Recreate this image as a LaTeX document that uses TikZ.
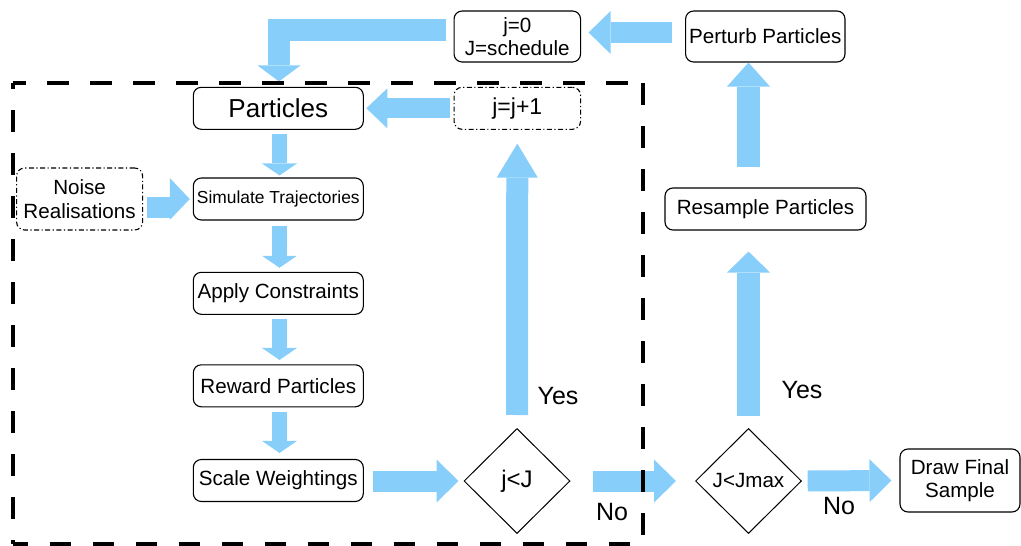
\documentclass[tikz,border=0pt]{standalone}
\usepackage{fontspec}
\setmainfont{Liberation Sans}
\usetikzlibrary{arrows.meta,shapes.geometric,calc}
\definecolor{flowblue}{HTML}{87CEFA}
\tikzset{
  box/.style={draw=black, line width=1.1pt, rounded corners=8pt, fill=white,
    inner sep=0pt, align=center, font=\fontsize{20.6}{23.4}\selectfont},
  dashdotbox/.style={box, dash pattern=on 5pt off 2.5pt on 1.2pt off 2.5pt},
  decision/.style={diamond, draw=black, line width=1pt, inner sep=0pt,
    minimum width=106pt, minimum height=105pt, fill=white},
  bigflow/.style={draw=flowblue, line width=21pt, line join=miter,
    -{Triangle[length=22pt,width=43pt,line width=0pt]}},
  smallflow/.style={draw=flowblue, line width=15pt,
    -{Triangle[length=12pt,width=35pt,line width=0pt]}},
  answer/.style={font=\fontsize{25}{30}\selectfont, inner sep=0pt},
  loopframe/.style={draw=black, line width=4pt, dash pattern=on 21.5pt off 21.5pt},
}
\begin{document}
\begin{tikzpicture}[x=1pt,y=-1pt]
\useasboundingbox (0,0) rectangle (1021,546);

% process boxes
\node[box, minimum width=126.5pt, minimum height=51pt] (j0) at (517.3,36.5) {j=0\\J=schedule};
\node[box, minimum width=159.4pt, minimum height=51pt] (perturb) at (765.3,36.5) {Perturb Particles};
\node[box, minimum width=170pt, minimum height=42pt, font=\fontsize{26}{30}\selectfont] (part) at (278.3,108.3) {Particles};
\node[dashdotbox, minimum width=126.5pt, minimum height=42pt, font=\fontsize{23}{27}\selectfont] (jinc) at (517.3,108.3) {j=j+1};
\node[dashdotbox, minimum width=126pt, minimum height=62pt] (noise) at (79.6,199) {Noise\\Realisations};
\node[box, minimum width=170pt, minimum height=42pt, font=\fontsize{17.4}{20}\selectfont] (sim) at (278.3,199) {Simulate Trajectories};
\node[box, minimum width=170pt, minimum height=42pt] (apply) at (278.3,293.3) {Apply Constraints};
\node[box, minimum width=170pt, minimum height=42pt] (reward) at (278.3,385.8) {Reward Particles};
\node[box, minimum width=170pt, minimum height=42pt] (scale) at (278.3,480.5) {Scale Weightings};
\node[box, minimum width=201pt, minimum height=42pt] (resample) at (765.5,209) {Resample Particles};
\node[box, minimum width=120pt, minimum height=63pt] (final) at (960,480.5) {Draw Final\\Sample};

% decisions
\node[decision, font=\fontsize{24}{28}\selectfont] (dec1) at (517,481) {j<J};
\node[decision, font=\fontsize{20.6}{24}\selectfont] (dec2) at (748.5,481) {J<Jmax};

% flow arrows
\draw[bigflow] ($(perturb.west)+(-12.6,-4)$) -- ($(j0.east)+(7.5,-4)$);
\draw[bigflow, line width=22pt, -{Triangle[length=16pt,width=43pt,line width=0pt]}]
  ($(j0.west)+(-8,-6.5)$) -| ($(part.north)+(0.7,-5.3)$);
\draw[bigflow, line width=20pt, -{Triangle[length=21pt,width=40pt,line width=0pt]}]
  ($(jinc.west)+(-4,0)$) -- ($(part.east)+(2.5,0)$);
\draw[smallflow] ($(part.south)+(1.2,4)$) -- ($(sim.north)+(1.2,-2)$);
\draw[draw=flowblue, line width=21pt] ($(noise.east)+(3.8,8.5)$) -- ($(sim.west)+(-22,8.5)$);
\fill[flowblue] ($(sim.west)+(-3,0)$) -- ++(-20,-21) -- ++(0,42) -- cycle;
\draw[smallflow] ($(sim.south)+(1.2,5)$) -- ($(apply.north)+(1.2,-4)$);
\draw[smallflow] ($(apply.south)+(1.2,4)$) -- ($(reward.north)+(1.2,-4.3)$);
\draw[smallflow] ($(reward.south)+(1.2,4.3)$) -- ($(scale.north)+(1.2,-6)$);
\draw[bigflow] ($(scale.east)+(9.5,0.5)$) -- ($(dec1.west)+(-5,0)$);
\draw[bigflow, line width=22pt, -{Triangle[length=34pt,width=41pt,line width=0pt]}]
  ($(dec1.north)+(0,-13)$) -- ($(jinc.south)+(0,13.7)$);
\draw[bigflow] ($(dec1.east)+(22,0)$) -- ($(dec2.west)+(-19,0)$);
\draw[bigflow, line width=23pt, -{Triangle[length=21pt,width=43pt,line width=0pt]}]
  ($(dec2.north)+(0,-12.3)$) -- ($(dec2.north |- resample.south)+(0,21)$);
\draw[bigflow, line width=22.5pt, -{Triangle[length=24pt,width=43pt,line width=0pt]}]
  ($(dec2.north |- resample.north)+(0,-20)$) -- (dec2.north |- perturb.south);
\draw[bigflow] ($(dec2.east)+(5.7,0)$) -- ($(final.west)+(-8,0)$);

% branch labels
\node[answer] (yes1) at (558,396) {Yes};
\node[answer] (yes2) at (802,390) {Yes};
\node[answer] (no1) at (612,512) {No};
\node[answer] (no2) at (839,506) {No};

% dashed loop frame
\coordinate (tl) at (12.6,83);
\coordinate (tr) at (643,83);
\coordinate (bl) at (12.6,544);
\coordinate (br) at (643,544);
\draw[loopframe, dash phase=8.6pt] (tl) -- (tr);
\draw[loopframe, dash phase=16pt] (tl) -- (bl);
\draw[loopframe] (tr) -- (br);
\draw[loopframe, dash phase=6pt] (bl) -- (br);
\end{tikzpicture}
\end{document}
